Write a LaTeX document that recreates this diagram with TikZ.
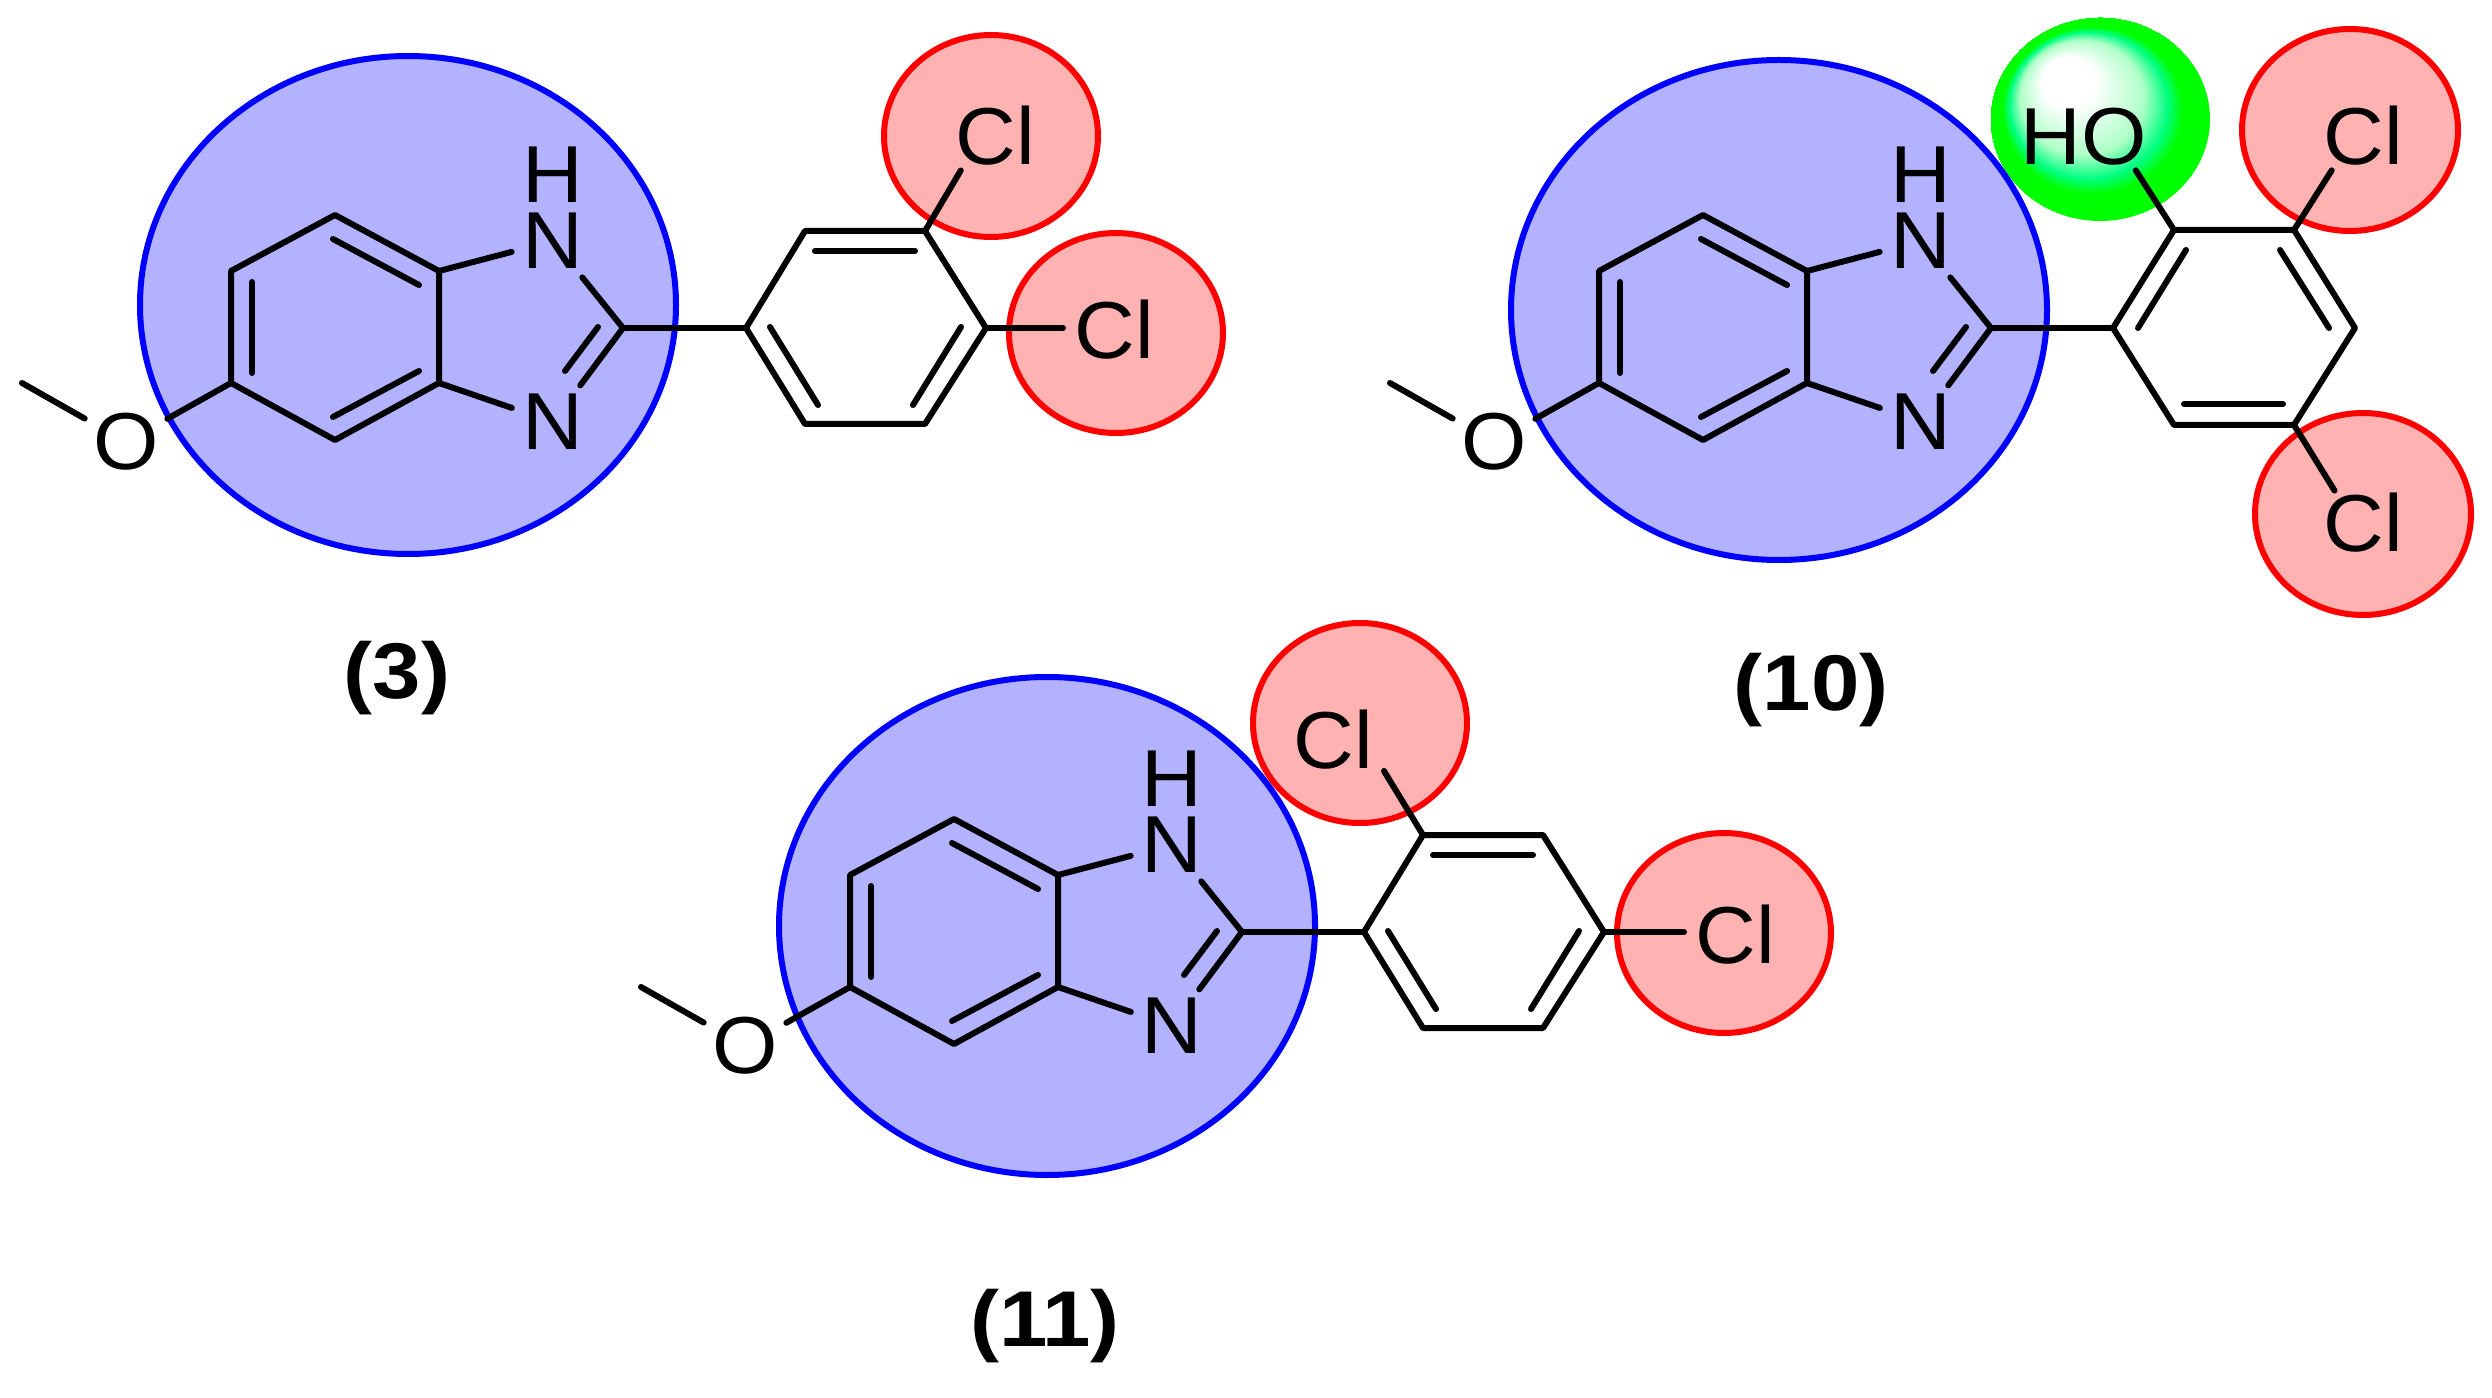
\documentclass[tikz,border=0pt]{standalone}
\usepackage{fontspec}
\newfontfamily\atomfont[FakeStretch=1.04]{Liberation Sans}
\newfontfamily\tagfont[FakeStretch=1.1]{Liberation Sans}
\definecolor{hospring}{RGB}{0,255,128}
\definecolor{hopale}{RGB}{175,255,200}
\pgfdeclareradialshading{hoglow}{\pgfpoint{-9.5bp}{12bp}}{color(0bp)=(white); color(6bp)=(white); color(14bp)=(hopale); color(18bp)=(hospring); color(20.5bp)=(green); color(25bp)=(green)}
\tikzset{
  bond/.style={line width=0.12cm, line cap=round, line join=round},
  tobond/.style={bond, shorten >=0.22cm},
  toox/.style={bond, shorten >=0.19cm},
  tocl/.style={bond, shorten >=0.13cm},
  core/.style={draw=blue, line width=0.12cm, fill=blue!30!white},
  halo/.style={draw=red, line width=0.12cm, fill=red!30!white},
  atom/.style={font=\atomfont\fontsize{46}{50}\selectfont, inner sep=0pt, text height=1.1cm, text depth=0pt},
  tag/.style={font=\tagfont\bfseries\fontsize{45}{50}\selectfont, inner sep=0pt}
}
\begin{document}
\begin{tikzpicture}[x=0.02cm, y=-0.02cm]
\useasboundingbox (0,0) rectangle (2492,1398);

% Highlight ellipses
\shade[shading=hoglow] (2100,119) ellipse [x radius=110, y radius=102];
\draw[core] (408,305) ellipse [x radius=268, y radius=249];
\draw[core] (1779,310) ellipse [x radius=268, y radius=250];
\draw[core] (1047,926) ellipse [x radius=268, y radius=249];
\draw[halo] (991,136) ellipse [x radius=107, y radius=101];
\draw[halo] (1116,333) ellipse [x radius=107, y radius=100];
\draw[halo] (2350,130) ellipse [x radius=108, y radius=101];
\draw[halo] (2363,514) ellipse [x radius=108, y radius=101];
\draw[halo] (1360,723) ellipse [x radius=107, y radius=100];
\draw[halo] (1724,933) ellipse [x radius=107, y radius=100];

% Methoxy benzimidazole part, the same in all three
\foreach \mol/\dx/\dy in {a/0/0, b/1368/0, c/619/604} {
\begin{scope}[shift={(\dx,\dy)}]
  \coordinate (\mol-r1) at (335,215);
  \coordinate (\mol-r2) at (439,271);
  \coordinate (\mol-r3) at (439,383);
  \coordinate (\mol-r4) at (335,440);
  \coordinate (\mol-r5) at (231,383);
  \coordinate (\mol-r6) at (231,271);
  \coordinate (\mol-c2) at (623,328);
  \coordinate (\mol-me) at (22,383);
  \coordinate (\mol-i1) at (333,239);
  \coordinate (\mol-i2) at (419,285);
  \coordinate (\mol-i3) at (419,371);
  \coordinate (\mol-i4) at (333,417);
  \coordinate (\mol-i5) at (252,282);
  \coordinate (\mol-i6) at (252,373);
  \coordinate (\mol-i7) at (598,327);
  \coordinate (\mol-i8) at (565,371);
  \node[atom] (\mol-nh) at (553,241) {N};
  \node[atom] (\mol-h) at (553,175) {H};
  \node[atom] (\mol-n) at (553,422) {N};
  \node[atom] (\mol-o) at (126,442) {O};
  \draw[bond] (\mol-r1) -- (\mol-r2) -- (\mol-r3) -- (\mol-r4) -- (\mol-r5) -- (\mol-r6) -- cycle;
  \draw[tobond] (\mol-r2) -- (\mol-nh);
  \draw[tobond] (\mol-r3) -- (\mol-n);
  \draw[tobond] (\mol-c2) -- (\mol-nh);
  \draw[tobond] (\mol-c2) -- (\mol-n);
  \draw[toox] (\mol-r5) -- (\mol-o);
  \draw[toox] (\mol-me) -- (\mol-o);
  \draw[bond] (\mol-i1) -- (\mol-i2);
  \draw[bond] (\mol-i3) -- (\mol-i4);
  \draw[bond] (\mol-i5) -- (\mol-i6);
  \draw[bond] (\mol-i7) -- (\mol-i8);
\end{scope}
}

% Dichlorophenyl rings of (3) and (11)
\foreach \mol/\dx/\dy in {a/0/0, c/618/604} {
\begin{scope}[shift={(\dx,\dy)}]
  \coordinate (\mol-p1) at (746,328);
  \coordinate (\mol-p2) at (805,231);
  \coordinate (\mol-p3) at (925,231);
  \coordinate (\mol-p4) at (986,328);
  \coordinate (\mol-p5) at (925,424);
  \coordinate (\mol-p6) at (805,424);
  \coordinate (\mol-d1) at (815,251);
  \coordinate (\mol-d2) at (915,251);
  \coordinate (\mol-d3) at (770,327);
  \coordinate (\mol-d4) at (818,405);
  \coordinate (\mol-d5) at (961,327);
  \coordinate (\mol-d6) at (913,405);
  \draw[bond] (\mol-p1) -- (\mol-p2) -- (\mol-p3) -- (\mol-p4) -- (\mol-p5) -- (\mol-p6) -- cycle;
  \draw[bond] (\mol-d1) -- (\mol-d2);
  \draw[bond] (\mol-d3) -- (\mol-d4);
  \draw[bond] (\mol-d5) -- (\mol-d6);
  \draw[bond] (\mol-c2) -- (\mol-p1);
\end{scope}
}

% Substituents of (3)
\node[atom] (a-cl1) at (995,137) {Cl};
\node[atom] (a-cl2) at (1114,331) {Cl};
\draw[tocl] (a-p3) -- (a-cl1.222);
\draw[tobond] (a-p4) -- (a-p4 -| a-cl2.west);
\node[tag] (a-tag) at (397,678) {(3)};

% Substituents of (11)
\node[atom] (c-cl1) at (1333,741) {Cl};
\node[atom] (c-cl2) at (1735,936) {Cl};
\coordinate (c-end) at (1384,771);
\draw[bond] (c-p2) -- (c-end);
\draw[tobond] (c-p4) -- (c-p4 -| c-cl2.west);
\node[tag] (c-tag) at (1045,1326) {(11)};

% Phenyl ring of (10)
\coordinate (b-p1) at (2113,328);
\coordinate (b-p2) at (2174,230);
\coordinate (b-p3) at (2294,230);
\coordinate (b-p4) at (2355,328);
\coordinate (b-p5) at (2294,425);
\coordinate (b-p6) at (2174,425);
\coordinate (b-d1) at (2186,250);
\coordinate (b-d2) at (2138,328);
\coordinate (b-d3) at (2280,250);
\coordinate (b-d4) at (2329,328);
\coordinate (b-d5) at (2184,404);
\coordinate (b-d6) at (2283,404);
\draw[bond] (b-p1) -- (b-p2) -- (b-p3) -- (b-p4) -- (b-p5) -- (b-p6) -- cycle;
\draw[bond] (b-d1) -- (b-d2);
\draw[bond] (b-d3) -- (b-d4);
\draw[bond] (b-d5) -- (b-d6);
\draw[bond] (b-c2) -- (b-p1);

% Substituents of (10)
\node[atom] (b-oh) at (2084,137) {HO};
\node[atom] (b-cl1) at (2363,137) {Cl};
\node[atom] (b-cl2) at (2363,524) {Cl};
\draw[tocl] (b-p2) -- (b-oh.330);
\draw[tocl] (b-p3) -- (b-cl1.225);
\draw[tocl] (b-p5) -- (b-cl2.132);
\node[tag] (b-tag) at (1811,690) {(10)};
\end{tikzpicture}
\end{document}
